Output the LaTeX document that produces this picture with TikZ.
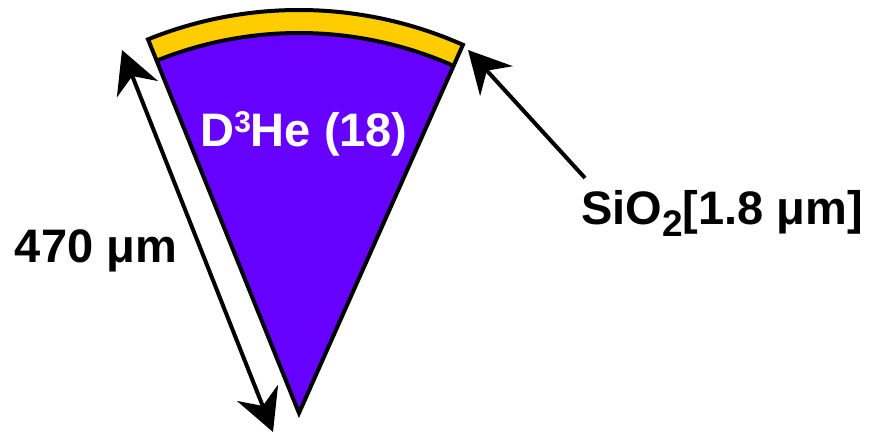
\documentclass[tikz,border=0pt]{standalone}
\usepackage{fontspec}
\setmainfont{Liberation Sans}
\usetikzlibrary{arrows.meta}
\definecolor{core}{HTML}{6600FF}
\definecolor{shell}{HTML}{FFCC00}
\begin{document}
\begin{tikzpicture}[x=1pt,y=1pt,
  outline/.style={line width=4pt,draw=black},
  dimarrow/.style={line width=4pt,-{Stealth[length=42pt,width=44pt,inset=14pt]}},
  dimarrows/.style={line width=4pt,{Stealth[length=42pt,width=44pt,inset=14pt]}-{Stealth[length=42pt,width=44pt,inset=14pt]}},
  lbl/.style={font=\fontsize{47}{50}\selectfont\bfseries,inner sep=0pt,anchor=base}]
\useasboundingbox (0,0) rectangle (879,433);
\coordinate (C) at (299,20);
% shell
\fill[shell] ([shift={(112:403pt)}]C) arc[start angle=112,end angle=66,radius=403pt]
  -- ([shift={(66:380pt)}]C) arc[start angle=66,end angle=112,radius=380pt] -- cycle;
% core
\fill[core] ([shift={(112:380pt)}]C) arc[start angle=112,end angle=66,radius=380pt] -- (C) -- cycle;
% outlines
\draw[outline] (C) -- ([shift={(112:403pt)}]C) arc[start angle=112,end angle=66,radius=403pt] -- cycle;
\draw[outline] ([shift={(112:380pt)}]C) arc[start angle=112,end angle=66,radius=380pt];
% arrows
\coordinate (la) at (122,383);
\coordinate (lb) at (273,1);
\draw[dimarrows] (la) -- (lb);
\coordinate (rtip) at (468,383);
\coordinate (rtail) at (585,255);
\draw[dimarrow] (rtail) -- (rtip);
% labels
\node[lbl] (len) at (96,170) {470 μm};
\node[lbl] (sio) at (722,208) {SiO\raisebox{-12pt}{\fontsize{37}{37}\selectfont 2}[1.8 μm]};
\node[lbl,text=white] (dhe) at (304,286) {D\raisebox{14pt}{\fontsize{30}{30}\selectfont 3}He (18)};
\end{tikzpicture}
\end{document}
